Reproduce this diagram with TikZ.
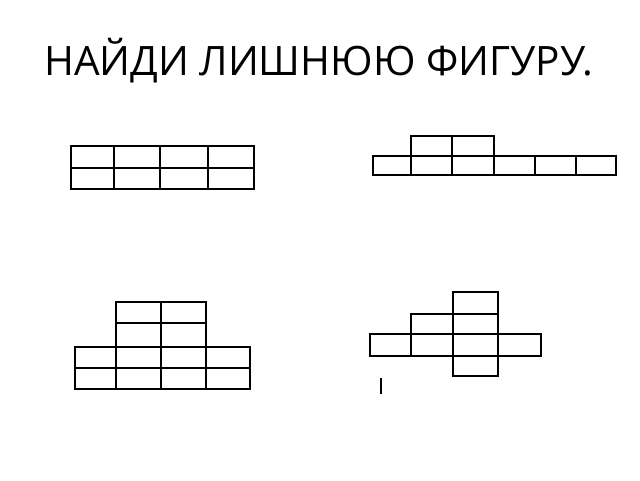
\documentclass[tikz,border=0pt]{standalone}
\usepackage{fontspec}
\setmainfont{Open Sans}
\begin{document}
\begin{tikzpicture}[x=1pt,y=-1pt,cell/.style={draw=black,line width=1.4pt}]
\useasboundingbox (0,0) rectangle (640,480);
\node[anchor=base west,inner sep=0pt,font=\fontsize{40.5}{44}\selectfont] (title) at (44,75) {НАЙДИ ЛИШНЮЮ ФИГУРУ.};
% figure 1
\draw[cell] (71,146) rectangle (254,189);
\draw[cell] (71,168) -- (254,168);
\foreach \x in {114,160,208} \draw[cell] (\x,146) -- (\x,189);
% figure 2
\draw[cell] (373,156) rectangle (616,175);
\foreach \x in {411,452,494,535,576} \draw[cell] (\x,156) -- (\x,175);
\draw[cell] (411,156) -- (411,136) -- (494,136) -- (494,156);
\draw[cell] (452,136) -- (452,156);
% figure 3
\draw[cell] (75,347) rectangle (250,389);
\draw[cell] (75,368) -- (250,368);
\foreach \x in {116,161,206} \draw[cell] (\x,347) -- (\x,389);
\draw[cell] (116,347) -- (116,302) -- (206,302) -- (206,347);
\draw[cell] (116,323) -- (206,323);
\draw[cell] (161,302) -- (161,347);
% figure 4
\draw[cell] (370,334) rectangle (541,356);
\foreach \x in {411,453,498} \draw[cell] (\x,334) -- (\x,356);
\draw[cell] (411,334) -- (411,314) -- (498,314);
\draw[cell] (453,292) rectangle (498,334);
\draw[cell] (453,356) rectangle (498,376);
\draw[line width=2.5pt] (381,378) -- (381,394);
\end{tikzpicture}
\end{document}
